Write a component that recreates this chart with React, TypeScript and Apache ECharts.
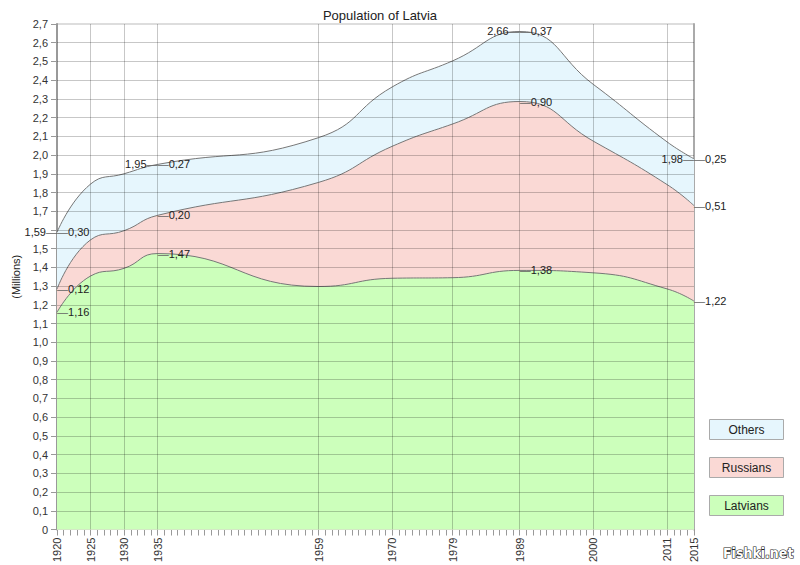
import { useEffect, useRef } from 'react';
import * as echarts from 'echarts';

const years = [1920, 1925, 1930, 1935, 1959, 1970, 1979, 1989, 2000, 2011, 2015];
const latvians = [1.16, 1.354, 1.395, 1.474, 1.298, 1.342, 1.345, 1.384, 1.371, 1.285, 1.22];
const russians = [0.124, 0.193, 0.201, 0.204, 0.556, 0.705, 0.821, 0.902, 0.703, 0.557, 0.51];
const others = [0.303, 0.298, 0.304, 0.272, 0.239, 0.317, 0.337, 0.374, 0.303, 0.228, 0.25];
const labelledYears = [1920, 1935, 1989, 2015];
const seriesNames = ['Latvians', 'Russians', 'Others'];
const seriesColors = ['#ccffbb', '#fad9d5', '#e6f6fd'];
const yGridValues = [0.1, 0.2, 0.3, 0.4, 0.5, 0.6, 0.7, 0.8, 0.9, 1.0, 1.1, 1.2, 1.3, 1.4, 1.5, 1.6, 1.7, 1.8, 1.9, 2.0, 2.1, 2.2, 2.3, 2.4, 2.5, 2.6];
const hiddenYLabels = [1.6];

const FONT = '"Liberation Sans", Arial, sans-serif';
const fmt = (v: number) => v.toFixed(2).replace('.', ',');

export default function App() {
  const ref = useRef<HTMLDivElement>(null);
  useEffect(() => {
    document.body.style.margin = '0';
    if (!ref.current) return;
    const chart = echarts.init(ref.current, undefined, { renderer: 'svg' });
    const seriesValues = [latvians, russians, others];
    // cumulative tops of each band (Latvians, Latvians+Russians, total)
    const cumulative = seriesValues.map((_, si) =>
      years.map((__, i) => seriesValues.slice(0, si + 1).reduce((s, arr) => s + arr[i], 0))
    );
    const totals = cumulative[2];

    const richStyle = {
      d: { color: '#666', fontSize: 11, fontFamily: FONT },
      v: { color: '#222', fontSize: 11, fontFamily: FONT },
    };

    // draw top band first so lower bands paint over it
    const bands = [2, 1, 0].map((si) => ({
      name: seriesNames[si],
      type: 'line',
      smooth: 0.5,
      symbol: 'circle',
      symbolSize: 0.1,
      showSymbol: true,
      itemStyle: { color: '#777' },
      lineStyle: { color: '#777', width: 1 },
      areaStyle: { color: seriesColors[si], opacity: 1, origin: 'start' },
      label: {
        show: false,
        position: 'right',
        distance: 0,
        formatter: (p: any) => `{d|—}{v|${fmt(seriesValues[si][p.dataIndex])}}`,
        rich: richStyle,
      },
      data: years.map((y, i) => ({
        value: [y, cumulative[si][i]],
        label: { show: labelledYears.includes(y) },
      })),
      z: 2,
    }));

    const option: any = {
      animation: false,
      textStyle: { fontFamily: FONT },
      title: {
        text: 'Population of Latvia',
        left: 375,
        textAlign: 'center',
        top: 4,
        textStyle: { fontSize: 13, fontWeight: 'normal', color: '#222', fontFamily: FONT },
      },
      grid: {
        left: 57,
        right: 106,
        top: 24,
        bottom: 33,
        show: true,
        borderColor: '#bbb',
        borderWidth: 1,
        backgroundColor: 'transparent',
      },
      xAxis: {
        type: 'value',
        min: 1920,
        max: 2015,
        interval: 1,
        axisLine: { show: true, lineStyle: { color: '#999', width: 1 } },
        axisTick: { show: true, length: 6, lineStyle: { color: '#999' } },
        axisLabel: {
          rotate: 90,
          margin: 8,
          fontSize: 11,
          color: '#333',
          fontFamily: FONT,
          formatter: (v: number) => (years.includes(v) ? String(v) : ''),
        },
        splitLine: { show: false },
      },
      yAxis: [
        {
          type: 'value',
          min: 0,
          max: 2.7,
          interval: 0.1,
          name: '(Millions)',
          nameLocation: 'middle',
          nameGap: 35,
          nameTextStyle: { fontSize: 11, color: '#222', fontFamily: FONT },
          axisLine: { show: true, lineStyle: { color: '#999', width: 2 } },
          axisTick: { show: true, length: 6, lineStyle: { color: '#999' } },
          axisLabel: {
            margin: 9,
            fontSize: 11,
            color: '#333',
            fontFamily: FONT,
            formatter: (v: number) => {
              const r = Math.round(v * 10) / 10;
              if (hiddenYLabels.includes(r)) return '';
              if (r === 0) return '0';
              return r.toFixed(1).replace('.', ',');
            },
          },
          splitLine: { show: false },
        },
        {
          type: 'value',
          position: 'right',
          min: 0,
          max: 2.7,
          interval: 0.1,
          axisLine: { show: true, lineStyle: { color: '#aaa', width: 2 } },
          axisTick: { show: false },
          axisLabel: { show: false },
          splitLine: { show: false },
        },
      ],
      series: [
        ...bands,
        {
          name: 'Total',
          type: 'line',
          symbol: 'circle',
          symbolSize: 0.1,
          showSymbol: true,
          itemStyle: { color: '#777' },
          lineStyle: { width: 0, opacity: 0 },
          z: 5,
          label: {
            show: false,
            position: 'left',
            distance: 0,
            formatter: (p: any) => `{v|${fmt(totals[p.dataIndex])}}{d|—}`,
            rich: richStyle,
          },
          data: years.map((y, i) => ({
            value: [y, totals[i]],
            label: { show: labelledYears.includes(y) },
          })),
          markLine: {
            silent: true,
            symbol: ['none', 'none'],
            label: { show: false },
            z: 5,
            lineStyle: { color: 'rgba(0,0,0,0.22)', type: 'solid', width: 1 },
            data: [
              ...years.filter((y) => y !== 1920 && y !== 2015).map((y) => ({ xAxis: y })),
              ...yGridValues.map((v) => ({ yAxis: v })),
            ],
          },
        },
      ],
      graphic: [
        ...[2, 1, 0].map((si, k) => ({
          type: 'group',
          left: 709,
          top: 419 + k * 38,
          children: [
            {
              type: 'rect',
              shape: { x: 0, y: 0, width: 74, height: 20 },
              style: { fill: seriesColors[si], stroke: '#aaa', lineWidth: 1 },
            },
            {
              type: 'text',
              x: 37,
              y: 10,
              style: {
                text: seriesNames[si],
                fill: '#222',
                font: `12px ${FONT}`,
                textAlign: 'center',
                textVerticalAlign: 'middle',
              },
            },
          ],
        })),
        {
          type: 'text',
          right: 6,
          top: 545,
          style: {
            text: 'Fishki.net',
            fill: '#fff',
            stroke: '#222',
            lineWidth: 1.2,
            font: 'bold 14px "DejaVu Sans Condensed", "Liberation Sans Narrow", sans-serif',
          },
        },
      ],
    };
    chart.setOption(option);
    return () => chart.dispose();
  }, []);
  return <div ref={ref} style={{ width: 800, height: 565 }} />;
}
